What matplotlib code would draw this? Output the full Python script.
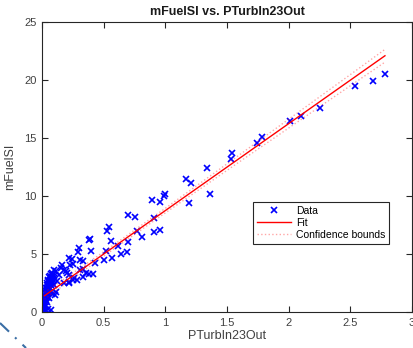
import matplotlib
matplotlib.use("Agg")
from matplotlib import pyplot as plt
from matplotlib.lines import Line2D
import numpy as np

plt.rcParams['font.family'] = ['Liberation Sans', 'DejaVu Sans']

# data points
data_x = [2.78, 2.68, 2.54, 2.25, 2.10, 2.01, 1.78, 1.74, 1.54, 1.53, 1.34, 1.17, 1.21, 1.19, 1.36,
          1.00, 0.99, 0.89, 0.96, 0.91, 0.70, 0.75, 0.91, 0.955, 0.54, 0.53, 0.77, 0.81, 0.56, 0.70,
          0.62, 0.52, 0.50, 0.57, 0.64, 0.69,
          0.39, 0.38, 0.40, 0.30, 0.29, 0.22, 0.24, 0.31, 0.33, 0.16, 0.155, 0.23, 0.25, 0.43,
          0.305, 0.20, 0.18, 0.115, 0.36, 0.38, 0.41, 0.25, 0.33, 0.28, 0.22, 0.18, 0.12, 0.095,
          0.115, 0.105, 0.08, 0.14, 0.195, 0.33, 0.22, 0.26, 0.22,
          0.003, 0.005, 0.004, 0.007, 0.008, 0.010, 0.010, 0.012, 0.013, 0.015, 0.016, 0.018,
          0.020, 0.020, 0.022, 0.024, 0.025, 0.027, 0.028, 0.030, 0.032, 0.033, 0.035, 0.037,
          0.038, 0.040, 0.042, 0.044, 0.045, 0.047, 0.050, 0.050, 0.052, 0.055, 0.056, 0.058,
          0.060, 0.062, 0.065, 0.067, 0.070, 0.072, 0.075, 0.078, 0.080, 0.083, 0.085, 0.088,
          0.090, 0.095, 0.100, 0.100, 0.006, 0.012, 0.018, 0.030, 0.040, 0.060, 0.070,
          0.030, 0.050, 0.070]
data_y = [20.5, 19.9, 19.5, 17.6, 16.9, 16.5, 15.1, 14.6, 13.7, 13.2, 12.4, 11.5, 11.1, 9.4, 10.2,
          10.2, 10.0, 9.7, 9.5, 8.1, 8.4, 8.2, 6.9, 7.1, 7.3, 7.0, 7.0, 6.5, 6.1, 6.0,
          5.7, 5.3, 4.5, 4.7, 5.0, 5.2,
          6.3, 6.2, 5.3, 5.5, 5.2, 4.7, 4.6, 4.5, 4.4, 4.05, 3.8, 4.05, 4.1, 4.2,
          3.6, 3.4, 3.6, 3.5, 3.4, 3.3, 3.3, 2.8, 3.0, 2.8, 2.5, 2.5, 2.7, 2.3,
          1.75, 1.5, 1.55, 3.2, 3.5, 3.75, 3.2, 2.9, 2.6,
          0.05, 0.2, 0.4, 0.1, 0.6, 0.3, 0.8, 0.5, 1.1, 0.2, 0.7, 1.3,
          0.9, 0.4, 1.6, 1.2, 0.6, 1.9, 1.4, 1.0, 2.1, 1.6, 1.2, 2.3,
          1.8, 1.4, 2.5, 2.0, 1.6, 2.7, 2.2, 1.3, 2.8, 2.4, 1.9, 3.0,
          2.6, 2.1, 3.1, 2.8, 2.3, 3.3, 2.9, 2.5, 3.4, 3.0, 2.6, 3.2,
          2.8, 3.6, 3.1, 2.9, 0.0, 0.0, 0.1, 0.5, 0.9, 1.2, 1.7,
          0.15, 0.3, 0.2]

# fitted line and confidence bounds
fit_x = [0.02, 2.78]
fit_y = [1.4, 22.1]
bound_x = [0.02, 0.3, 0.6, 1.0, 1.5, 2.0, 2.5, 2.78]
bound_hw = [0.30, 0.22, 0.18, 0.20, 0.28, 0.38, 0.48, 0.55]

fig = plt.figure(figsize=(4.14, 3.48), dpi=100)
ax = fig.add_axes([0.1014, 0.1034, 0.894, 0.833])

ax.plot(data_x, data_y, 'x', color=(0, 0, 1), markersize=4, markeredgewidth=1.2, label='Data')
ax.plot(fit_x, fit_y, '-', color='red', linewidth=1.0, label='Fit')
bx = np.array(bound_x)
by = np.interp(bx, fit_x, fit_y)
hw = np.array(bound_hw)
ax.plot(bx, by + hw, ':', color='red', alpha=0.35, linewidth=1.0, label='Confidence bounds')
ax.plot(bx, by - hw, ':', color='red', alpha=0.35, linewidth=1.0)

ax.set_xlim(0, 3)
ax.set_ylim(0, 25)
ax.set_xticks([0, 0.5, 1, 1.5, 2, 2.5, 3])
ax.set_xticklabels(['0', '0.5', '1', '1.5', '2', '2.5', '3'])
ax.set_yticks([0, 5, 10, 15, 20, 25])

axcol = '#262626'
for s in ax.spines.values():
    s.set_color(axcol)
    s.set_linewidth(0.8)
ax.tick_params(direction='in', top=True, right=True, length=4, width=0.8,
               colors=axcol, labelsize=8, labelcolor='#404040', pad=4)

ax.set_title('mFuelSI vs. PTurbIn23Out', fontsize=9, fontweight='bold', color='#1a1a1a', pad=5)
ax.set_xlabel('PTurbIn23Out', fontsize=9, color='#404040', labelpad=2)
ax.set_ylabel('mFuelSI', fontsize=9, color='#404040', labelpad=6)

leg = ax.legend(loc='upper left', bbox_to_anchor=(0.57, 0.379), fontsize=7.5,
                fancybox=False, edgecolor=axcol, framealpha=1, borderaxespad=0,
                handlelength=3.3, borderpad=0.35, labelspacing=0.2, handletextpad=0.5)
leg.get_frame().set_linewidth(0.8)

# dashed artefact at the lower left corner
fig.add_artist(Line2D([0 / 414, 26 / 414], [25 / 348, 0 / 348], transform=fig.transFigure,
                      color='#3a6ea5', linewidth=1.5, linestyle=(0, (6, 4, 1, 4))))

fig.savefig('out.png', dpi=100)
